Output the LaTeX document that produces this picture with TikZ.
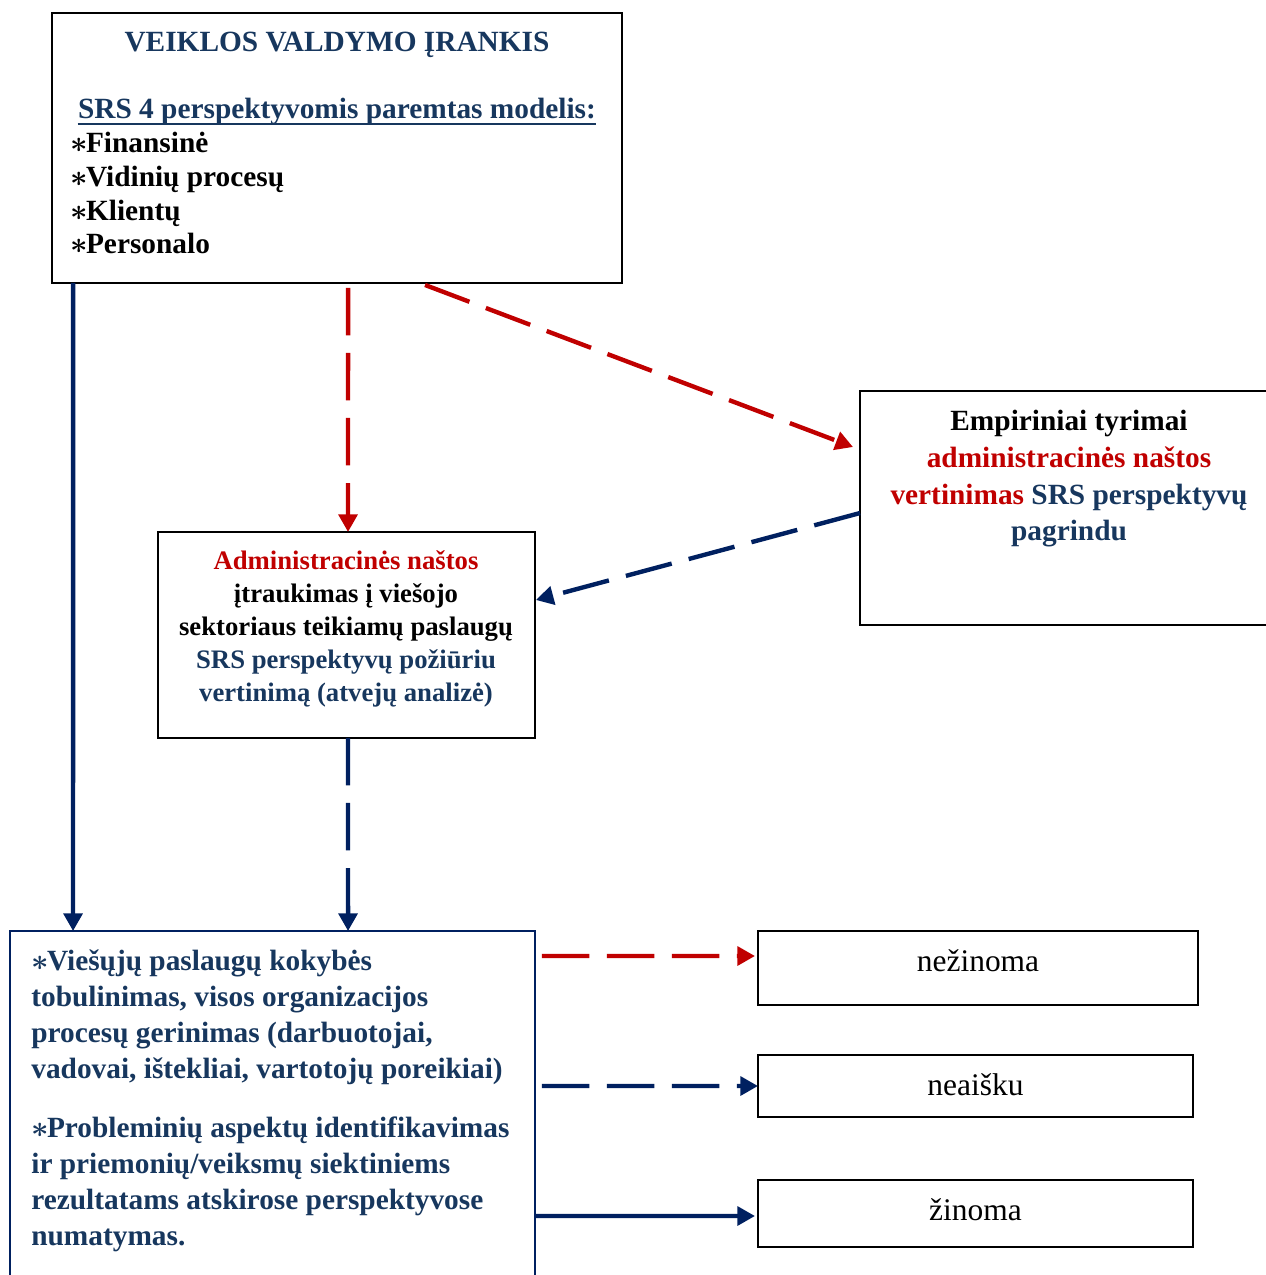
\documentclass[tikz,border=0pt]{standalone}
\usepackage{fontspec}
\setmainfont{Liberation Serif}
\usetikzlibrary{arrows.meta,calc}
\definecolor{txtblue}{HTML}{17375E}
\definecolor{navy}{HTML}{002060}
\definecolor{darkred}{HTML}{C00000}
\newcommand\stbul{{\boldmath$\ast$}\kern-1pt}
\begin{document}
\begin{tikzpicture}[x=0.02cm,y=-0.02cm,
  box/.style={draw=black,line width=1.1pt,inner sep=0pt,outer sep=0pt},
  ln/.style={inner sep=0pt,anchor=base,font=\bfseries\fontsize{16.7}{19}\selectfont},
  lnm/.style={ln,font=\bfseries\fontsize{15.2}{18}\selectfont},
  lnl/.style={ln,anchor=base west},
  lnr/.style={inner sep=0pt,anchor=base,font=\fontsize{17.9}{20}\selectfont},
  conn/.style={line width=2.5pt,-{Triangle[length=10pt,width=10.5pt]}},
  dsh/.style={dash pattern=on 27pt off 10pt},
]
\useasboundingbox (0,0) rectangle (1266,1275);

% boxes
\node[box,minimum width=11.4cm,minimum height=5.4cm] (top) at (337,148) {};
\node[box,minimum width=8.4cm,minimum height=4.68cm] (emp) at (1070,508) {};
\node[box,minimum width=7.54cm,minimum height=4.12cm] (mid) at (346.5,635) {};
\node[box,draw=navy,line width=0.9pt,minimum width=10.5cm,minimum height=7.18cm] (bot) at (272.5,1110.5) {};
\node[box,minimum width=8.8cm,minimum height=1.48cm] (r1) at (978,968) {};
\node[box,minimum width=8.7cm,minimum height=1.24cm] (r2) at (975.5,1086) {};
\node[box,minimum width=8.7cm,minimum height=1.34cm] (r3) at (975.5,1213.5) {};

% top box text
\node[ln,text=txtblue] (t1) at (337,51) {VEIKLOS VALDYMO ĮRANKIS};
\node[ln,text=txtblue] (t2) at (337,118) {SRS 4 perspektyvomis paremtas modelis:};
\draw[txtblue,line width=1.4pt] ($(t2.base west)+(0,6)$) -- ($(t2.base east)+(0,6)$);
\node[lnl] (t3) at (70,152) {\stbul Finansinė};
\node[lnl] (t4) at (70,186) {\stbul Vidinių procesų};
\node[lnl] (t5) at (70,220) {\stbul Klientų};
\node[lnl] (t6) at (70,253) {\stbul Personalo};

% empirical research box text
\node[ln] (e1) at (1069,430) {Empiriniai tyrimai};
\node[ln,text=darkred] (e2) at (1069,467) {administracinės naštos};
\node[ln] (e3) at (1069,504) {\textcolor{darkred}{vertinimas} \textcolor{txtblue}{SRS perspektyvų}};
\node[ln,text=txtblue] (e4) at (1069,540) {pagrindu};

% middle box text
\node[lnm,text=darkred] (m1) at (346,569) {Administracinės naštos};
\node[lnm] (m2) at (346,602) {įtraukimas į viešojo};
\node[lnm] (m3) at (346,635) {sektoriaus teikiamų paslaugų};
\node[lnm,text=txtblue] (m4) at (346,668) {SRS perspektyvų požiūriu};
\node[lnm,text=txtblue] (m5) at (346,701) {vertinimą (atvejų analizė)};

% bottom box text
\node[lnl,text=txtblue] (b1) at (31,970) {\stbul Viešųjų paslaugų kokybės};
\node[lnl,text=txtblue] (b2) at (31,1006) {tobulinimas, visos organizacijos};
\node[lnl,text=txtblue] (b3) at (31,1042) {procesų gerinimas (darbuotojai,};
\node[lnl,text=txtblue] (b4) at (31,1078) {vadovai, ištekliai, vartotojų poreikiai)};
\node[lnl,text=txtblue] (b5) at (31,1137) {\stbul Probleminių aspektų identifikavimas};
\node[lnl,text=txtblue] (b6) at (31,1173) {ir priemonių/veiksmų siektiniems};
\node[lnl,text=txtblue] (b7) at (31,1209) {rezultatams atskirose perspektyvose};
\node[lnl,text=txtblue] (b8) at (31,1245) {numatymas.};

% outcome boxes text
\node[lnr] (o1) at (978,971) {nežinoma};
\node[lnr] (o2) at (975.5,1095) {neaišku};
\node[lnr] (o3) at (975.5,1220) {žinoma};

% connectors
\draw[conn,navy] ($(top.south west)+(21,0)$) -- ($(bot.north west)+(63,0)$);
\draw[conn,dsh,darkred] ($(top.south west)+(296,5)$) -- ($(mid.north west)+(190,0)$);
\draw[conn,dsh,darkred] ($(top.south west)+(373,2)$) -- ($(emp.north west)+(-7,56)$);
\draw[conn,dsh,navy] ($(emp.north west)+(0,122)$) -- ($(mid.north east)+(1,68)$);
\draw[conn,dsh,navy] ($(mid.south west)+(190,0)$) -- ($(bot.north west)+(338,0)$);
\draw[conn,dsh,darkred] ($(bot.north east)+(7,25)$) -- ($(r1.west)+(-3,-12)$);
\draw[conn,dsh,navy] ($(bot.north east)+(7,155)$) -- (r2.west);
\draw[conn,navy] ($(bot.north east)+(0,285)$) -- ($(r3.west)+(-3,2.5)$);
\end{tikzpicture}
\end{document}
